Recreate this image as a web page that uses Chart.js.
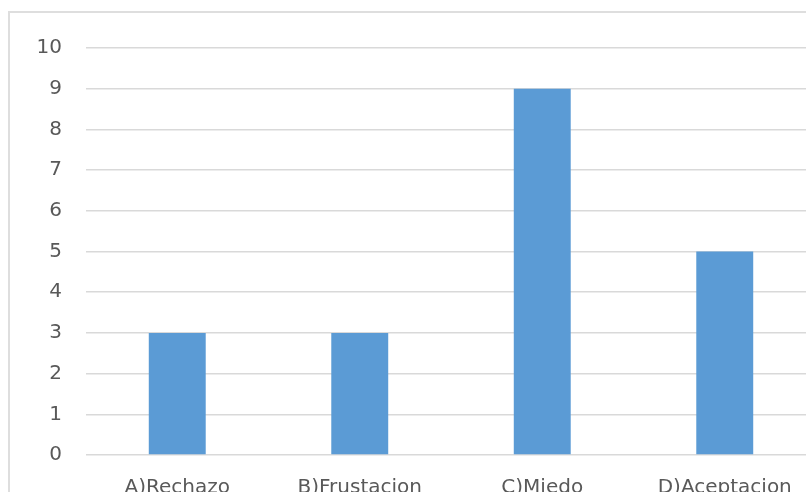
<!DOCTYPE html>
<html>
<head>
<meta charset="utf-8">
<script src="https://cdn.jsdelivr.net/npm/chart.js@4/dist/chart.umd.min.js"></script>
<style>
  html, body { margin: 0; padding: 0; background: #fff; overflow: hidden; width: 806px; height: 492px; }
  #frame { position: absolute; left: 8px; top: 11px; width: 900px; height: 600px; border: 2px solid #dedede; box-sizing: border-box; }
  #wrap { position: absolute; left: 0; top: 0; width: 816px; height: 520px; }
</style>
</head>
<body>
<div id="frame"></div>
<div id="wrap"><canvas id="c"></canvas></div>
<script>
// Respuestas por categoría
const categories = ['A)Rechazo', 'B)Frustacion', 'C)Miedo', 'D)Aceptacion'];
const values = [3, 3, 9, 5];
const yTicks = [0, 1, 2, 3, 4, 5, 6, 7, 8, 9, 10];

const textColor = '#595959';
const gridColor = '#d9d9d9';
const font = { family: 'DejaVu Sans', size: 20 };

new Chart(document.getElementById('c'), {
  type: 'bar',
  data: {
    labels: categories,
    datasets: [{
      data: values,
      backgroundColor: '#5b9bd5',
      borderWidth: 0,
      barPercentage: 0.312,
      categoryPercentage: 1
    }]
  },
  options: {
    responsive: true,
    maintainAspectRatio: false,
    animation: false,
    layout: { padding: { top: 48, right: 0, left: 0, bottom: 0 } },
    plugins: { legend: { display: false }, tooltip: { enabled: false } },
    scales: {
      x: {
        grid: { display: false },
        border: { display: false },
        ticks: { color: textColor, font: font, padding: 13, maxRotation: 0, autoSkip: false },
        afterFit(scale) { scale.height = 65; }
      },
      y: {
        min: yTicks[0],
        max: yTicks[yTicks.length - 1],
        afterBuildTicks(scale) { scale.ticks = yTicks.map(v => ({ value: v })); },
        grid: { color: gridColor, lineWidth: 1.5, drawTicks: false },
        border: { display: false },
        ticks: { color: textColor, font: font, padding: 24 },
        afterFit(scale) { scale.width = 86; }
      }
    }
  }
});
</script>
</body>
</html>
